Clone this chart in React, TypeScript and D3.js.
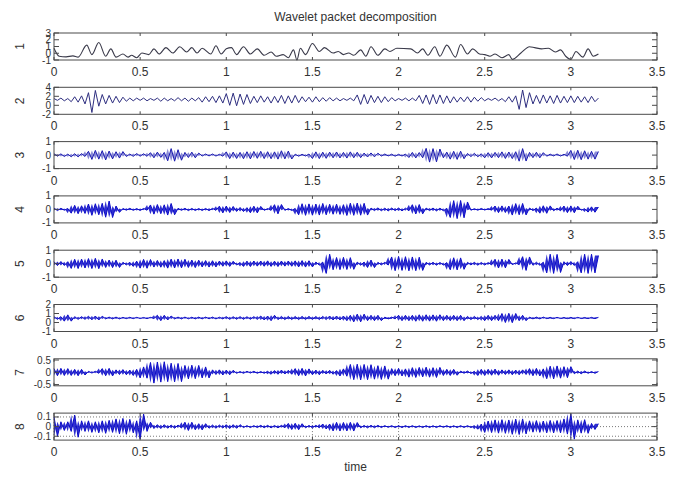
import { area, curveLinear, curveMonotoneX, line, scaleLinear } from 'd3'

// 8-level wavelet packet decomposition, MATLAB-style stacked subplots.
// Each dense band is stored as alternating extrema sampled every SAMPLE_DT seconds,
// amplitudes read off the reference picture.

const TITLE = 'Wavelet packet decomposition'
const X_LABEL = 'time'
const X_TICKS = [0, 0.5, 1, 1.5, 2, 2.5, 3, 3.5]
const PANEL_NAMES = ['1', '2', '3', '4', '5', '6', '7', '8']
const Y_DOMAINS: [number, number][] = [
  [-1, 3], [-2, 4], [-1, 1], [-1, 1], [-1, 1], [-1, 2], [-0.55, 0.55], [-0.14, 0.14],
]
const Y_TICKS = [
  [-1, 0, 1, 2, 3], [-2, 0, 2, 4], [-1, 0, 1], [-1, 0, 1], [-1, 0, 1], [-1, 0, 1, 2], [-0.5, 0, 0.5], [-0.1, 0, 0.1],
]
const SAMPLE_DT = 0.02

// panel 1: smooth approximation, extrema positions (s) and values
const S1_TIME = [
  0, 0.03, 0.07, 0.11, 0.14, 0.19, 0.22, 0.26, 0.3, 0.33, 0.36, 0.4, 0.43, 0.45, 0.48, 0.51, 0.55, 0.58, 0.61, 0.65,
  0.69, 0.73, 0.77, 0.8, 0.83, 0.86, 0.91, 0.94, 0.97, 1.0, 1.03, 1.06, 1.1, 1.14, 1.18, 1.22, 1.26, 1.29, 1.33, 1.36,
  1.39, 1.41, 1.43, 1.46, 1.5, 1.54, 1.57, 1.62, 1.65, 1.68, 1.71, 1.74, 1.78, 1.81, 1.84, 1.88, 1.92, 1.95, 1.99, 2.07,
  2.11, 2.14, 2.17, 2.21, 2.24, 2.28, 2.33, 2.36, 2.4, 2.43, 2.47, 2.5, 2.53, 2.56, 2.6, 2.64, 2.66, 2.71, 2.76, 2.79,
  2.83, 2.87, 2.91, 2.94, 2.97, 3.0, 3.03, 3.07, 3.1, 3.13, 3.16,
]
const S1_VALUES = [
  0.74, -0.44, -0.53, -0.39, -0.58, 1.21, -0.2, 1.59, -0.44, 0.65, -0.58, -0.11, -0.58, -0.3, -0.67, 0.03, -0.2, 0.65, -0.11, 0.83,
  0.03, 0.97, 0.18, 0.83, 0.03, 0.74, -0.11, 1.12, -0.11, 0.65, 0.83, -0.2, 0.97, -0.11, 0.65, -0.3, 0.18, -0.44, -0.2, -0.67,
  0.5, -1.0, 0.74, -0.2, 1.44, 0.27, 0.83, 0.03, 0.27, -0.2, 0.03, -0.3, 0.5, -0.44, 0.97, -0.3, 0.65, 0.27, 0.74, 0.65,
  0.03, 0.65, -0.3, 0.97, -0.44, 1.21, -0.58, 1.3, -0.11, 0.65, -0.11, -0.2, -0.44, -0.11, -0.67, -0.2, -0.9, 0.03, 0.97, 0.83,
  0.65, 0.74, 0.18, 0.5, -0.44, -0.9, 0.27, -0.58, 0.65, -0.44, -0.11,
]

const S2_VALUES = [
  1.5, 1.1, 1.6, 1.0, 1.5, 0.8, 1.9, 0.7, 2.1, 0.3,
  2.8, -1.6, 3.3, -0.2, 2.4, 0.3, 2.2, 0.5, 2.0, 0.6,
  1.8, 0.9, 1.6, 1.0, 1.6, 1.1, 1.6, 1.0, 1.5, 1.1,
  1.6, 0.9, 1.6, 1.0, 1.5, 1.0, 1.7, 1.0, 1.6, 0.9,
  1.6, 1.0, 1.7, 0.7, 1.9, 0.8, 2.0, 0.6, 2.1, 0.5,
  2.6, 0.0, 2.7, -0.1, 2.5, 0.2, 2.4, 0.4, 2.0, 0.6,
  2.1, 0.7, 1.9, 0.5, 2.0, 0.6, 2.2, 0.4, 2.1, 0.5,
  2.2, 0.6, 1.9, 0.8, 1.8, 0.7, 1.9, 0.8, 1.7, 0.9,
  1.7, 1.0, 1.6, 1.0, 1.5, 1.1, 1.6, 1.0, 2.3, 0.2,
  2.4, 0.3, 2.2, 0.6, 2.0, 0.6, 1.9, 0.8, 1.7, 1.0,
  1.5, 1.1, 1.6, 1.0, 1.6, 1.0, 2.2, 0.4, 2.3, 0.2,
  2.4, 0.3, 2.3, 0.4, 2.1, 0.5, 1.9, 0.7, 1.8, 0.8,
  1.9, 0.7, 1.8, 0.9, 1.7, 1.0, 1.5, 1.1, 1.6, 1.0,
  1.5, 0.8, 1.9, 0.7, 2.1, -0.9, 3.4, -0.5, 2.8, 0.3,
  2.2, 0.4, 2.3, 0.5, 2.1, 0.4, 2.2, 0.5, 2.0, 0.6,
  2.1, 0.6, 2.0, 0.7, 1.9, 0.6, 2.0, 0.8, 1.6,
]

const S3_VALUES = [
  .1, -.08, .09, -.1, .07, -.12, .1, -.13, .11, -.1,
  .28, -.32, .35, -.3, .33, -.36, .3, -.28, .25, -.22,
  .26, -.1, .08, -.09, .11, -.08, .1, -.09, .18, -.2,
  .22, -.17, .2, -.42, .48, -.45, .4, -.38, .2, -.18,
  .22, -.2, .15, -.07, .08, -.06, .08, -.07, .06, -.08,
  .24, -.26, .22, -.25, .2, -.27, .25, -.28, .27, -.24,
  .28, -.26, .25, -.27, .24, -.3, .32, -.28, .3, -.29,
  .07, -.08, .06, -.07, .08, -.25, .24, -.26, .22, -.24,
  .22, -.2, .23, -.21, .2, -.22, .24, -.2, .21, -.19,
  .15, -.14, .16, -.13, .14, -.07, .08, -.06, .07, -.08,
  .06, -.07, .08, -.18, .2, -.21, .19, -.2, .5, -.52,
  .48, -.5, .45, -.2, .22, -.3, .28, -.32, .29, -.27,
  .12, -.11, .13, -.12, .1, -.2, .18, -.21, .2, -.19,
  .24, -.25, .23, -.26, .25, -.45, .48, -.44, .2, -.19,
  .21, -.2, .18, -.08, .07, -.06, .08, -.07, .06, -.08,
  .35, -.33, .36, -.34, .32, -.3, .28, -.3, .26,
]

const S4_VALUES = [
  .1, -.09, .08, -.06, .07, -.28, .3, -.32, .27, -.3,
  .4, -.44, .42, -.4, .45, -.58, .62, -.6, .25, -.22,
  .07, -.06, .08, -.07, .06, -.08, .07, -.06, .33, -.35,
  .36, -.32, .34, -.42, .44, -.4, .08, -.07, .08, -.09,
  .07, -.08, .06, -.08, .07, -.09, .08, -.07, .24, -.26,
  .25, -.23, .22, -.15, .14, -.16, .13, -.25, .24, -.26,
  .22, -.07, .06, -.07, .35, -.33, .36, -.07, .06, -.08,
  .07, -.4, .42, -.44, .41, -.43, .4, -.42, .44, -.4,
  .38, -.36, .39, -.37, .35, -.45, .46, -.44, .47, -.43,
  .45, -.42, .1, -.09, .11, -.1, .09, -.11, .1, -.09,
  .1, -.11, .09, -.1, .35, -.34, .36, -.33, .1, -.09,
  .1, -.11, .09, -.1, .08, -.6, .65, -.68, .66, -.62,
  .55, -.06, .05, -.06, .07, -.05, .06, -.06, .25, -.24,
  .26, -.23, .25, -.42, .43, -.4, .44, -.41, .1, -.09,
  .1, -.28, .27, -.29, .26, -.1, .09, -.1, .25, -.24,
  .26, -.25, .23, -.06, .05, -.2, .19, -.21, .18,
]

const S5_VALUES = [
  .15, -.14, .16, -.13, .15, -.35, .33, -.36, .34, -.32,
  .38, -.36, .4, -.37, .35, -.28, .27, -.29, .26, -.28,
  .1, -.09, .1, -.2, .19, -.33, .32, -.34, .31, -.25,
  .24, -.26, .23, -.33, .34, -.32, .35, -.31, .33, -.28,
  .27, -.29, .26, -.24, .23, -.25, .22, -.24, .2, -.19,
  .21, -.2, .18, -.1, .09, -.2, .19, -.21, .2, -.18,
  .2, -.19, .21, -.2, .19, -.21, .2, -.18, .2, -.19,
  .21, -.24, .23, -.25, .22, -.24, .12, -.11, .12, -.72,
  .7, -.45, .46, -.44, .47, -.43, .45, -.42, .12, -.11,
  .12, -.28, .27, -.29, .1, -.09, .1, -.1, .5, -.52,
  .54, -.5, .52, -.53, .5, -.52, .48, -.5, .1, -.09,
  .1, -.11, .09, -.1, .08, -.45, .44, -.46, .43, -.42,
  .1, -.09, .1, -.11, .09, -.1, .08, -.09, .33, -.32,
  .34, -.31, .32, -.07, .06, -.07, .52, -.5, .5, -.12,
  .11, -.12, .11, -.68, .7, -.72, .69, -.65, .15, -.14,
  .16, -.13, .15, -.68, .7, -.72, .7, -.68, .6,
]

const S6_VALUES = [
  .65, .35, .65, .15, .85, .15, .65, .35, .65, .35,
  .7, .3, .72, .28, .7, .4, .6, .4, .6, .4,
  .57, .43, .58, .43, .57, .44, .56, .43, .57, .44,
  .8, .2, .8, .28, .72, .4, .6, .4, .6, .41,
  .59, .4, .6, .4, .6, .41, .6, .4, .59, .4,
  .65, .35, .64, .36, .65, .35, .64, .36, .65, .35,
  .72, .28, .72, .2, .8, .32, .68, .32, .68, .33,
  .67, .32, .68, .32, .68, .33, .67, .32, .68, .32,
  .72, .28, .72, .28, .72, .2, .8, .07, .93, .07,
  .93, .2, .8, .2, .8, .2, .6, .4, .6, .4,
  .8, .2, .8, .2, .8, .14, .86, .14, .86, .15,
  .85, .14, .86, .2, .8, .2, .8, .2, .8, .2,
  .68, .32, .68, .32, .68, .2, .8, .2, .8, .2,
  1.0, 0, 1.02, -.02, 1.0, .2, .8, .2, .6, .4,
  .6, .4, .6, .43, .57, .43, .57, .44, .56, .43,
  .57, .43, .57, .44, .56, .43, .57, .43, .57,
]

const S7_VALUES = [
  .15, -.14, .16, -.13, .15, -.13, .12, -.14, .12, -.11,
  .04, -.03, .04, -.04, .15, -.14, .16, -.15, .1, -.09,
  .11, -.1, .09, -.13, .12, -.23, .22, -.24, .4, -.44,
  .42, -.4, .43, -.38, .37, -.39, .36, -.38, .28, -.27,
  .29, -.26, .28, -.23, .22, -.23, .1, -.09, .1, -.11,
  .09, -.1, .08, -.04, .03, -.04, .04, -.03, .04, -.04,
  .03, -.04, .04, -.08, .07, -.08, .09, -.07, .08, -.08,
  .15, -.14, .16, -.15, .14, -.1, .09, -.1, .08, -.07,
  .08, -.08, .07, -.15, .14, -.16, .32, -.3, .33, -.31,
  .32, -.3, .31, -.28, .27, -.29, .26, -.28, .15, -.14,
  .16, -.15, .14, -.2, .19, -.21, .2, -.19, .21, -.2,
  .19, -.21, .2, -.13, .12, -.13, .12, -.12, .05, -.04,
  .05, -.05, .04, -.13, .12, -.13, .12, -.12, .13, -.12,
  .1, -.09, .1, -.1, .09, -.1, .1, -.09, .15, -.14,
  .16, -.15, .14, -.26, .25, -.27, .26, -.24, .23, -.22,
  .23, -.06, .05, -.06, .05, -.04, .03, -.04, .03,
]

const S8_VALUES = [
  .1, -.1, .05, -.04, .05, -.05, .12, -.11, .06, -.05,
  .06, -.06, .05, -.065, .06, -.07, .065, -.06, .08, -.075,
  .085, -.08, .075, -.065, .06, -.13, .13, -.05, .045, -.02,
  .02, -.02, .02, -.017, .016, -.017, .016, -.015, .045, -.04,
  .045, -.033, .03, -.034, .03, -.017, .016, -.017, .016, -.015,
  .02, -.02, .02, -.018, .02, -.01, .01, -.01, .01, -.01,
  .013, -.012, .013, -.013, .012, -.013, .013, -.012, .033, -.03,
  .034, -.032, .03, -.013, .012, -.013, .013, -.012, .027, -.025,
  .027, -.045, .044, -.046, .043, -.045, .044, -.046, .042, -.013,
  .012, -.013, .013, -.012, .013, -.01, .01, -.008, .01, -.01,
  .009, -.01, .01, -.009, .01, -.01, .008, -.01, .01, -.01,
  .009, -.01, .01, -.008, .01, -.01, .009, -.01, .01, -.009,
  .01, -.01, .01, -.027, .026, -.06, .058, -.062, .07, -.068,
  .072, -.07, .069, -.08, .078, -.082, .08, -.076, .06, -.058,
  .062, -.06, .058, -.065, .064, -.066, .063, -.065, .08, -.078,
  .13, -.13, .07, -.068, .072, -.07, .033, -.03, .03,
]

const DENSE_SERIES = [S2_VALUES, S3_VALUES, S4_VALUES, S5_VALUES, S6_VALUES, S7_VALUES, S8_VALUES]
const LINE_COLORS = ['#3a3a4a', '#2e2e80', '#1a1ab0', '#0c0cc8', '#0c0cc8', '#0c0cc8', '#0c0cc8', '#0c0cc8']
// how solid the swing between neighbouring extrema is painted (the blobs in the reference)
const BAND_OPACITY = [0, 0, 0.5, 0.85, 0.85, 0.8, 0.85, 0.85]

const W = 681
const H = 478
const LEFT = 54
const RIGHT = 657
const TOP0 = 33
const PITCH = 54.3
const BOX_H = 27
const FONT = '"Liberation Sans", Arial, sans-serif'
const INK = '#333'
const AXIS = '#4a4a4a'

const xScale = scaleLinear().domain([0, 3.5]).range([LEFT, RIGHT])

function Panel({ k }: { k: number }) {
  const top = TOP0 + k * PITCH
  const bottom = top + BOX_H
  const yScale = scaleLinear().domain(Y_DOMAINS[k]).range([bottom, top])
  const grid = k === 7

  let path = ''
  let band = ''
  if (k === 0) {
    path =
      line<number>()
        .x((_, i) => xScale(S1_TIME[i]))
        .y((d) => yScale(d))
        .curve(curveMonotoneX)(S1_VALUES) ?? ''
  } else {
    const values = DENSE_SERIES[k - 1]
    path =
      line<number>()
        .x((_, i) => xScale(i * SAMPLE_DT))
        .y((d) => yScale(d))
        .curve(curveLinear)(values) ?? ''
    // fill between each extremum and the next one: vertical swings, like the packed oscillation
    band =
      area<number>()
        .x((_, i) => xScale(i * SAMPLE_DT))
        .y0((d) => yScale(d))
        .y1((d, i) => yScale(values[i + 1] ?? d))(values) ?? ''
  }

  return (
    <g>
      {grid &&
        X_TICKS.map((t) => (
          <line key={`gx${t}`} x1={xScale(t)} x2={xScale(t)} y1={top} y2={bottom} stroke="#555" strokeWidth={0.8} strokeDasharray="1,2" />
        ))}
      {grid &&
        Y_TICKS[k].map((v) => (
          <line key={`gy${v}`} x1={LEFT} x2={RIGHT} y1={yScale(v)} y2={yScale(v)} stroke="#555" strokeWidth={0.8} strokeDasharray="1,2" />
        ))}
      {band && BAND_OPACITY[k] > 0 && <path d={band} fill={LINE_COLORS[k]} fillOpacity={BAND_OPACITY[k]} stroke="none" />}
      <path d={path} fill="none" stroke={LINE_COLORS[k]} strokeWidth={k === 0 ? 1.1 : 1} strokeLinejoin="round" />
      <rect x={LEFT} y={top} width={RIGHT - LEFT} height={BOX_H} fill="none" stroke={AXIS} strokeWidth={1} />
      {X_TICKS.map((t) => (
        <g key={`xt${t}`}>
          <line x1={xScale(t)} x2={xScale(t)} y1={top} y2={top + 3} stroke={AXIS} />
          <line x1={xScale(t)} x2={xScale(t)} y1={bottom} y2={bottom - 3} stroke={AXIS} />
          <text x={xScale(t)} y={bottom + 12} textAnchor="middle" dominantBaseline="central" fontSize={12} fill={INK}>
            {String(t)}
          </text>
        </g>
      ))}
      {Y_TICKS[k].map((v) => (
        <g key={`yt${v}`}>
          <line x1={LEFT} x2={LEFT + 5} y1={yScale(v)} y2={yScale(v)} stroke={AXIS} />
          <line x1={RIGHT} x2={RIGHT - 5} y1={yScale(v)} y2={yScale(v)} stroke={AXIS} />
          <text x={LEFT - 3} y={yScale(v)} textAnchor="end" dominantBaseline="central" fontSize={10} fill={INK}>
            {String(v)}
          </text>
        </g>
      ))}
      <text
        transform={`translate(20, ${(top + bottom) / 2}) rotate(-90)`}
        textAnchor="middle"
        dominantBaseline="central"
        fontSize={12}
        fill={INK}
      >
        {PANEL_NAMES[k]}
      </text>
    </g>
  )
}

export default function App() {
  return (
    <div style={{ position: 'absolute', left: 0, top: 0 }}>
      <svg width={W} height={H} viewBox={`0 0 ${W} ${H}`} style={{ display: 'block', background: '#fff' }} fontFamily={FONT}>
        <rect width={W} height={H} fill="#fff" />
        <text x={(LEFT + RIGHT) / 2} y={17} textAnchor="middle" dominantBaseline="central" fontSize={12} fill={INK}>
          {TITLE}
        </text>
        {PANEL_NAMES.map((_, k) => (
          <Panel key={k} k={k} />
        ))}
        <text x={(LEFT + RIGHT) / 2} y={467} textAnchor="middle" dominantBaseline="central" fontSize={12} fill={INK}>
          {X_LABEL}
        </text>
      </svg>
    </div>
  )
}
